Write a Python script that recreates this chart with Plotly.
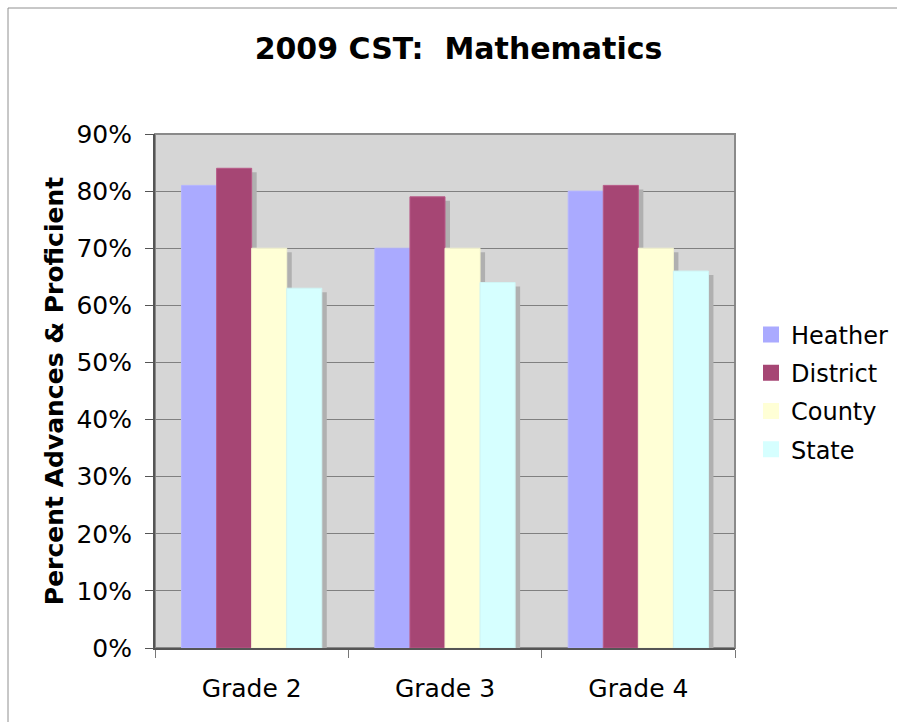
import plotly.graph_objects as go

categories = ["Grade 2", "Grade 3", "Grade 4"]
series_names = ["Heather", "District", "County", "State"]
heather = [81, 70, 80]
district = [84, 79, 81]
county = [70, 70, 70]
state = [63, 64, 66]
y_tick_vals = [0, 10, 20, 30, 40, 50, 60, 70, 80, 90]
y_tick_text = ["0%", "10%", "20%", "30%", "40%", "50%", "60%", "70%", "80%", "90%"]

series_values = [heather, district, county, state]
colors = ["#aaaaff", "#a64674", "#ffffd6", "#d6ffff"]
line_colors = ["#b4b4ff", "#b85a88", "#f5f5d0", "#d0f5f5"]

W = 897
H = 722
L, R, T, B = 155, 162, 134, 74
plot_w = W - L - R
plot_h = H - T - B

bar_w = 35 / 193.0
offsets = [-2 * bar_w, -bar_w, 0.0, bar_w]
shadow_dx = 5 / 193.0
shadow_dy = 4 / (plot_h / 90.0)

fig = go.Figure()

# shadows first
for vals, off in zip(series_values, offsets):
    fig.add_trace(go.Bar(
        x=categories, y=[v - shadow_dy for v in vals],
        width=bar_w, offset=off + shadow_dx,
        marker=dict(color="#b0b0b0", line=dict(width=0)),
        showlegend=False, hoverinfo="skip",
    ))

for name, vals, off, c, lc in zip(series_names, series_values, offsets, colors, line_colors):
    fig.add_trace(go.Bar(
        x=categories, y=vals, name=name,
        width=bar_w, offset=off,
        marker=dict(color=c, line=dict(color=lc, width=1)),
        showlegend=False,
    ))

for i, (name, c) in enumerate(zip(series_names, colors)):
    fig.add_trace(go.Scatter(
        x=[None], y=[None], mode="markers", name=name,
        marker=dict(symbol="square", size=18, color=c),
        legendgroup="g%d" % i,
    ))

fig.update_layout(
    width=W, height=H,
    margin=dict(l=L, r=R, t=T, b=B, autoexpand=False),
    paper_bgcolor="white",
    plot_bgcolor="#d6d6d6",
    barmode="overlay",
    font=dict(family="DejaVu Sans, Verdana, sans-serif", color="black"),
    title=dict(
        text="<b>2009 CST:  Mathematics</b>",
        font=dict(size=30, color="black"),
        x=458.5 / W, xref="container", xanchor="center",
        y=1 - 48 / H, yref="container", yanchor="middle",
    ),
    legend=dict(
        x=(751 - L) / plot_w, xanchor="left",
        y=(H - B - 392) / plot_h, yanchor="middle",
        font=dict(size=24),
        tracegroupgap=4,
        traceorder="grouped",
        bgcolor="rgba(0,0,0,0)",
        itemwidth=30,
    ),
    xaxis=dict(
        type="category",
        range=[-0.5, 2.5],
        tickson="boundaries",
        ticks="outside", ticklen=8, tickcolor="#777777",
        showline=True, linecolor="#555555", linewidth=2,
        showgrid=False,
        tickfont=dict(size=25),
        ticklabelstandoff=17,
        fixedrange=True,
    ),
    yaxis=dict(
        range=[0, 90],
        tickvals=y_tick_vals, ticktext=y_tick_text,
        ticks="outside", ticklen=8, tickcolor="#555555",
        showline=True, linecolor="#555555", linewidth=2,
        showgrid=True, gridcolor="#808080", gridwidth=1,
        zeroline=False,
        tickfont=dict(size=25),
        ticklabelstandoff=8,
        title=dict(text="<b>Percent Advances &amp; Proficient</b>", font=dict(size=25), standoff=6),
        fixedrange=True,
    ),
    shapes=[
        dict(type="rect", xref="paper", yref="paper", x0=0, x1=1, y0=0, y1=1,
             line=dict(color="#8a8a8a", width=2), fillcolor="rgba(0,0,0,0)", layer="below"),
        dict(type="rect", xref="paper", yref="paper",
             x0=(8 - L) / plot_w, x1=(W + 20 - L) / plot_w,
             y0=(H - B - (H + 20)) / plot_h, y1=(H - B - 8) / plot_h,
             line=dict(color="#909090", width=1), fillcolor="rgba(0,0,0,0)", layer="below"),
    ],
)

fig.write_html("out.html", config={"displayModeBar": False},
               post_script="document.body.style.margin='0';document.body.style.overflow='hidden';")
